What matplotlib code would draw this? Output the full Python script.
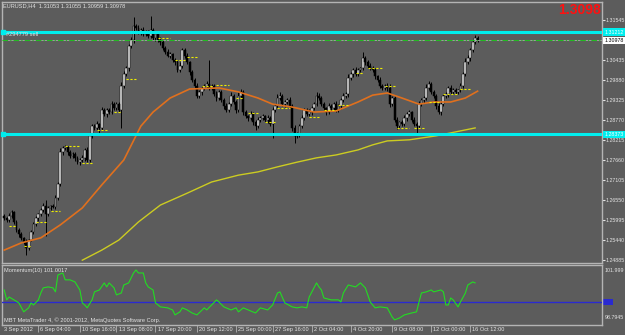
import numpy as np
import matplotlib
matplotlib.use("Agg")
import matplotlib.pyplot as plt
import matplotlib.transforms as mtransforms
from matplotlib.patches import Rectangle

plt.rcParams['font.family'] = ['Liberation Sans', 'DejaVu Sans']
FS = 4.1
FS_AX = 3.8

# EURUSD H4 closes, one per bar
closes = [
    1.2605, 1.2599, 1.2611, 1.2622, 1.2594, 1.2572, 1.2561, 1.2550, 1.2538, 1.2522,
    1.2544, 1.2566, 1.2588, 1.2605, 1.2616, 1.2627, 1.2638, 1.2616, 1.2633, 1.2638,
    1.2636, 1.2661, 1.2699, 1.2788, 1.2799, 1.2802, 1.2788, 1.2777, 1.2783, 1.2772,
    1.2760, 1.2766, 1.2772, 1.2794, 1.2766, 1.2832, 1.2860, 1.2855, 1.2866, 1.2855,
    1.2905, 1.2894, 1.2905, 1.2899, 1.2922, 1.2910, 1.2922, 1.2905, 1.2972, 1.3005,
    1.3021, 1.3082, 1.3099, 1.3138, 1.3132, 1.3121, 1.3127, 1.3116, 1.3121, 1.3110,
    1.3127, 1.3105, 1.3116, 1.3099, 1.3093, 1.3077, 1.3066, 1.3055, 1.3060, 1.3044,
    1.3038, 1.3016, 1.3027, 1.3071, 1.3055, 1.3038, 1.3010, 1.2988, 1.2972, 1.2944,
    1.2955, 1.2966, 1.2972, 1.2977, 1.2966, 1.2972, 1.2949, 1.2938, 1.2955, 1.2933,
    1.2916, 1.2905, 1.2922, 1.2944, 1.2927, 1.2905, 1.2944, 1.2955, 1.2899, 1.2888,
    1.2883, 1.2894, 1.2871, 1.2860, 1.2877, 1.2883, 1.2888, 1.2877, 1.2883, 1.2866,
    1.2905, 1.2916, 1.2938, 1.2944, 1.2922, 1.2927, 1.2933, 1.2916, 1.2855, 1.2832,
    1.2838, 1.2860, 1.2883, 1.2905, 1.2894, 1.2899, 1.2910, 1.2922, 1.2944, 1.2938,
    1.2922, 1.2910, 1.2899, 1.2916, 1.2910, 1.2922, 1.2905, 1.2916, 1.2933, 1.2944,
    1.2949, 1.2994, 1.3005, 1.3016, 1.3005, 1.3016, 1.3021, 1.3049, 1.3038, 1.3027,
    1.3021, 1.3016, 1.2999, 1.2988, 1.2972, 1.2966, 1.2972, 1.2966, 1.2922, 1.2938,
    1.2877, 1.2860, 1.2871, 1.2866, 1.2883, 1.2894, 1.2899, 1.2877, 1.2866, 1.2860,
    1.2922, 1.2933, 1.2938, 1.2966, 1.2977, 1.2955, 1.2944, 1.2916, 1.2899, 1.2922,
    1.2944, 1.2949, 1.2966, 1.2955, 1.2960, 1.2955, 1.2960, 1.2972, 1.3005, 1.3038,
    1.3049, 1.3071, 1.3093, 1.3105, 1.3098,
]
first_open = 1.2611

# wick lengths above / below the body, in pips
wick_up = [
    6, 4, 8, 5, 3, 6, 4, 5, 3, 8, 4, 6, 5, 7, 4,
    5, 10, 17, 6, 4, 5, 8, 6, 10, 5, 7, 4, 6, 5, 4,
    6, 5, 8, 4, 7, 10, 6, 5, 8, 4, 7, 5, 6, 4, 8,
    5, 6, 4, 10, 8, 6, 5, 7, 25, 6, 8, 5, 7, 6, 5,
    40, 6, 5, 4, 7, 5, 6, 8, 5, 4, 6, 5, 10, 6, 5,
    7, 4, 6, 5, 8, 6, 5, 4, 7, 67, 5, 6, 8, 4, 6,
    5, 7, 6, 10, 5, 6, 12, 8, 5, 6, 4, 7, 5, 6, 8,
    5, 6, 4, 7, 5, 8, 6, 10, 12, 5, 6, 4, 7, 5, 8,
    6, 5, 7, 6, 4, 8, 5, 6, 10, 7, 5, 6, 4, 8, 5,
    6, 7, 5, 6, 8, 5, 10, 6, 5, 7, 6, 4, 17, 6, 5,
    7, 5, 6, 4, 8, 5, 6, 7, 12, 6, 5, 7, 4, 6, 8,
    5, 6, 4, 7, 5, 8, 6, 5, 10, 7, 5, 6, 4, 8, 6,
    5, 7, 6, 8, 5, 6, 4, 7, 6, 10, 8, 5, 6, 9, 4,
]
wick_dn = [
    5, 6, 4, 7, 5, 6, 8, 5, 6, 20, 5, 4, 6, 5, 7,
    6, 5, 60, 5, 6, 4, 7, 5, 6, 8, 5, 7, 6, 5, 8,
    5, 7, 6, 8, 5, 6, 4, 7, 6, 20, 5, 6, 8, 5, 4,
    6, 5, 7, 50, 6, 5, 8, 6, 7, 5, 6, 8, 5, 7, 6,
    5, 6, 8, 5, 7, 6, 5, 4, 7, 6, 8, 5, 6, 7, 5,
    6, 8, 5, 7, 6, 5, 8, 6, 5, 7, 6, 5, 8, 6, 7,
    8, 6, 5, 7, 6, 8, 5, 6, 7, 5, 8, 6, 7, 10, 5,
    6, 7, 5, 8, 6, 39, 5, 7, 6, 5, 8, 6, 7, 8, 19,
    6, 8, 5, 7, 6, 5, 8, 6, 7, 5, 6, 8, 7, 5, 6,
    5, 7, 6, 8, 5, 6, 7, 5, 8, 6, 5, 7, 6, 8, 5,
    6, 5, 8, 6, 7, 5, 6, 8, 10, 7, 6, 8, 5, 7, 6,
    8, 6, 5, 7, 25, 6, 5, 8, 6, 5, 7, 6, 8, 5, 7,
    6, 5, 8, 6, 7, 5, 6, 5, 7, 6, 5, 8, 6, 5, 4,
]

# moving averages (bar index, value)
orange_bar = [0, 7, 15, 23, 32, 40, 49, 56, 61, 68, 76, 88, 96, 104, 110,
              118, 127, 136, 145, 151, 157, 163, 170, 176, 183, 189, 194]
orange_val = [1.2516, 1.2536, 1.2550, 1.2586, 1.2633, 1.2697, 1.2766, 1.2860,
              1.2899, 1.2938, 1.2963, 1.2966, 1.2955, 1.2938, 1.2921, 1.2913,
              1.2899, 1.2902, 1.2927, 1.2946, 1.2952, 1.2938, 1.2921, 1.2927,
              1.2927, 1.2938, 1.2957]
yellow_bar = [32, 40, 47, 55, 64, 75, 85, 96, 104, 112, 120, 128, 136, 145,
              151, 157, 166, 177, 185, 193]
yellow_val = [1.2488, 1.2516, 1.2544, 1.2594, 1.2641, 1.2674, 1.2705, 1.2724,
              1.2733, 1.2747, 1.2760, 1.2772, 1.2780, 1.2794, 1.2808, 1.2819,
              1.2822, 1.2833, 1.2844, 1.2855]

# short yellow level dashes
dash_start = [2, 8, 13, 19, 25, 32, 38, 45, 50, 63, 70, 75, 81, 87, 95,
              100, 107, 112, 119, 125, 131, 137, 144, 149, 156, 161, 168,
              174, 180, 187]
dash_end = [5, 11, 17, 23, 31, 36, 42, 48, 54, 68, 74, 79, 85, 92, 98,
            104, 111, 117, 123, 129, 136, 141, 147, 155, 160, 166, 172,
            178, 186, 191]
dash_price = [1.2583, 1.2527, 1.2594, 1.2624, 1.2805, 1.2758, 1.2849, 1.2899,
              1.2991, 1.3105, 1.3044, 1.3052, 1.2972, 1.2974, 1.2938, 1.2896,
              1.2871, 1.2910, 1.2841, 1.2885, 1.2905, 1.2919, 1.3007, 1.3021,
              1.2972, 1.2855, 1.2855, 1.2927, 1.2949, 1.2963]

# Momentum(10)
mom_bar = [0, 1, 2, 4, 6, 8, 10, 11, 12, 14, 15, 16, 18, 20, 21, 22, 24, 25,
           27, 29, 31, 32, 33, 34, 36, 37, 39, 41, 42, 43, 45, 46, 48, 49, 51,
           53, 54, 55, 57, 58, 59, 61, 62, 64, 67, 69, 70, 72, 73, 75, 77, 79,
           82, 83, 85, 87, 88, 90, 93, 95, 96, 98, 100, 103, 105, 108, 110,
           112, 113, 115, 118, 120, 122, 124, 125, 128, 129, 130, 131, 134,
           137, 138, 139, 141, 144, 146, 148, 150, 152, 154, 157, 159, 160,
           162, 164, 167, 169, 170, 171, 173, 175, 176, 179, 180, 181, 182,
           183, 184, 186, 187, 189, 190, 192, 193]
mom_val = [100.75, 100.13, 100.31, 100.13, 99.94, 99.38, 99.63, 99.94, 99.81,
           100.13, 100.56, 100.88, 100.94, 100.88, 100.63, 101.69, 101.81,
           101.38, 101.38, 101.25, 100.75, 99.94, 99.81, 99.63, 100.13, 100.63,
           100.75, 101.19, 100.94, 101.19, 100.88, 100.44, 100.56, 101.06,
           101.19, 101.81, 102.00, 101.81, 101.81, 101.19, 100.94, 100.75,
           99.94, 99.69, 99.63, 99.50, 99.19, 99.38, 99.63, 99.50, 99.31,
           99.19, 99.63, 99.50, 99.81, 100.13, 100.00, 99.69, 99.50, 99.63,
           99.38, 99.63, 99.50, 99.31, 99.63, 99.50, 99.81, 100.56, 100.63,
           99.94, 99.69, 99.63, 99.69, 99.63, 100.31, 101.19, 100.94, 100.75,
           100.25, 100.13, 100.13, 100.00, 100.56, 101.06, 100.94, 101.19,
           100.88, 100.00, 99.63, 99.69, 99.63, 99.06, 98.88, 99.00, 99.19,
           99.31, 99.38, 100.00, 100.56, 100.63, 100.75, 100.63, 100.75,
           100.63, 99.81, 99.81, 100.25, 100.13, 99.69, 100.00, 100.56,
           101.06, 101.25, 101.19]

# the 1.30990 grid label sits under the bid label, so it is left out
price_ticks = [1.31545, 1.30435, 1.29880, 1.29325, 1.28770, 1.28215,
               1.27660, 1.27105, 1.26550, 1.25995, 1.25440, 1.24885]
date_bar = [-1, 14, 31, 46, 62, 79, 95, 110, 126, 142, 159, 175, 191]
date_text = ["3 Sep 2012", "6 Sep 04:00", "10 Sep 16:00", "13 Sep 08:00",
             "17 Sep 20:00", "20 Sep 12:00", "25 Sep 00:00", "27 Sep 16:00",
             "2 Oct 04:00", "4 Oct 20:00", "9 Oct 08:00", "12 Oct 00:00",
             "16 Oct 12:00"]
upper_line = 1.31212
lower_line = 1.28373
order_price = 1.30998
bid = 1.30978

BG = '#5c5c5c'
FRAME = '#b4b4b4'
TXT = '#e4e4e4'
CYAN = '#00eeee'

fig = plt.figure(figsize=(6.25, 3.35), dpi=100, facecolor=BG)
ax = fig.add_axes([0.0032, 0.2164, 0.96, 0.7791], facecolor=BG)
axm = fig.add_axes([0.0032, 0.0299, 0.96, 0.1791], facecolor=BG)

# candles
c = np.array(closes)
o = np.r_[first_open, c[:-1]]
hi = np.maximum(o, c) + np.array(wick_up) * 1e-4
lo = np.minimum(o, c) - np.array(wick_dn) * 1e-4
x = np.arange(len(c))
ax.vlines(x, lo, hi, color='black', lw=0.7, zorder=3)
bull = c >= o
body = np.maximum(np.abs(c - o), 0.00006)
ax.bar(x[bull], body[bull], bottom=o[bull], width=0.75, color='#f2f2f2',
       edgecolor='black', lw=0.35, zorder=4)
ax.bar(x[~bull], body[~bull], bottom=c[~bull], width=0.75, color='black',
       edgecolor='black', lw=0.35, zorder=4)

ax.plot(orange_bar, orange_val, color='#e0701e', lw=1.2, zorder=5)
ax.plot(yellow_bar, yellow_val, color='#cccc22', lw=1.0, zorder=5)
ax.hlines(dash_price, dash_start, dash_end, colors='#eeee00',
          linestyles=(0, (2, 1.5)), lw=0.8, zorder=6)

# horizontal lines
ax.axhline(upper_line, color=CYAN, lw=2.2, zorder=7)
ax.axhline(lower_line, color=CYAN, lw=2.2, zorder=7)
ax.plot([-0.5, -0.5], [upper_line, lower_line], 's', color=CYAN, ms=3.5,
        zorder=8, clip_on=False)
ax.axhline(order_price, color='#22bb22', lw=0.8, ls=(0, (5, 2, 1, 2)), zorder=6)
ax.axhline(bid, color='#a8a8a8', lw=0.6, zorder=5)
ax.text(0.8, 1.3113, '#294779 sell', fontsize=FS, color=TXT, va='center',
        zorder=9)

ax.set_xlim(-0.91, 245.0)
ax.set_ylim(1.248156, 1.320584)
ax.set_xticks([])
ax.yaxis.tick_right()
ax.set_yticks(price_ticks)
ax.set_yticklabels(["%.5f" % p for p in price_ticks])
ax.tick_params(axis='y', colors=TXT, labelsize=FS_AX, length=2, pad=0.8)

ytr = mtransforms.blended_transform_factory(ax.transAxes, ax.transData)
for lvl in (upper_line, lower_line):
    ax.text(1.004, lvl, "%.5f" % lvl, transform=ytr, fontsize=FS_AX,
            color='white', va='center', ha='left', zorder=10, clip_on=False,
            bbox=dict(boxstyle='square,pad=0.2', fc=CYAN, ec='none'))
ax.text(1.004, bid, "%.5f" % bid, transform=ytr, fontsize=FS_AX, color='black',
        va='center', ha='left', zorder=10, clip_on=False,
        bbox=dict(boxstyle='square,pad=0.2', fc='white', ec='none'))

# momentum
axm.plot(mom_bar, mom_val, color='#22dd22', lw=0.8, zorder=4)
axm.axhline(100, color='#2a2ad0', lw=1.0, zorder=3)
axm.set_xlim(-0.91, 245.0)
axm.set_ylim(98.56, 102.31)
axm.set_yticks([])
mtr = mtransforms.blended_transform_factory(axm.transAxes, axm.transData)
axm.add_patch(Rectangle((1.002, 99.8), 0.017, 0.4, transform=mtr,
                        fc='#2a2ad0', ec='none', clip_on=False))
axm.text(1.005, 0.9, '101.999', transform=axm.transAxes, fontsize=FS_AX,
         color=TXT, va='center', ha='left')
axm.text(1.005, 0.117, '98.7945', transform=axm.transAxes, fontsize=FS_AX,
         color=TXT, va='center', ha='left')
axm.text(0.004, 0.9, 'Momentum(10) 101.0017', transform=axm.transAxes,
         fontsize=FS, color=TXT, va='center', ha='left')
axm.text(0.003, 0.085, 'MBT MetaTrader 4, \u00a9 2001-2012, MetaQuotes Software Corp.',
         transform=axm.transAxes, fontsize=FS, color=TXT, va='center', ha='left')

axm.set_xticks(date_bar[1:])
axm.set_xticklabels([])
axm.tick_params(axis='x', colors=FRAME, length=5, width=0.6)
xtr = mtransforms.blended_transform_factory(axm.transData, axm.transAxes)
for b, t in zip(date_bar, date_text):
    axm.annotate(t, xy=(b, 0), xycoords=xtr, xytext=(1.5, -1.5),
                 textcoords='offset points', ha='left', va='top',
                 fontsize=FS, color=TXT, annotation_clip=False)

for a in (ax, axm):
    for s in a.spines.values():
        s.set_color(FRAME)
        s.set_linewidth(1.0)

fig.text(3 / 625, 1 - 6 / 335, 'EURUSD,H4  1.31053 1.31055 1.30959 1.30978',
         fontsize=FS, color=TXT, va='center', ha='left')
fig.text(601 / 625, 1 - 10 / 335, '1.3098', fontsize=10, fontweight='bold',
         color='#ff1010', va='center', ha='right')

fig.savefig('out.png', dpi=100, facecolor=BG)
